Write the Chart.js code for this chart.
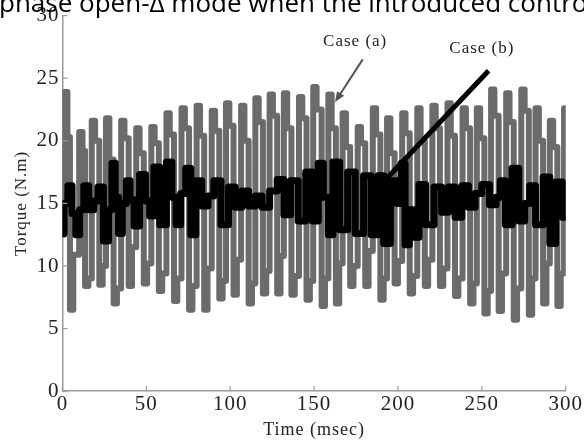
<!DOCTYPE html>
<html>
<head>
<meta charset="utf-8">
<script src="https://cdn.jsdelivr.net/npm/chart.js@4.4.0/dist/chart.umd.min.js"></script>
<style>
  html, body { margin: 0; padding: 0; background: #fff; }
</style>
</head>
<body>
<canvas id="torqueChart" width="584" height="446"></canvas>
<script>
// --- DATA ---
// Case (a): step transitions (time in msec, torque in N.m)
const caseATime = [
  0, 1, 3, 4.5, 6.5, 10, 12, 13.5, 15.5, 17.5, 19.5, 22, 24,
  26, 28, 30.5, 32.5, 35, 37, 39.5, 41.5, 44, 46, 48.5, 50.5,
  53, 55, 57.5, 59.5, 62, 64, 66.5, 68.5, 71, 73, 75.5, 77.5,
  80, 82, 84.5, 86.5, 89, 91, 93.5, 95.5, 97.5, 99.5, 102, 104,
  106.5, 108.5, 111, 113, 115, 117, 119.5, 121.5, 123.5, 125.5, 128, 130,
  132, 134, 136.5, 138.5, 141, 143, 145.5, 147.5, 149.5, 151.5, 154.5, 156.5,
  158.5, 160.5, 163, 165, 167, 169, 171.5, 173.5, 176, 178, 180.5, 182.5,
  185, 187, 189.5, 191.5, 193.5, 195.5, 198, 200, 202.5, 204.5, 207, 209,
  211.5, 213.5, 216, 218, 220.5, 222.5, 225, 227, 229.5, 231.5, 234, 236,
  238.5, 240.5, 243, 245, 247, 249, 251.5, 253.5, 255.5, 257.5, 260, 262,
  264.5, 266.5, 269, 271, 273.5, 275.5, 278, 280, 282, 284, 286.5, 288.5,
  290.5, 292.5, 295, 297, 299, 300
];
const caseATorque = [
  12.5, 23.9, 20.3, 6.5, 10.9, 20.7, 19.2, 8.4, 9.0, 21.6, 20.0, 8.5, 10.0,
  21.8, 18.5, 7.0, 8.2, 21.6, 20.2, 8.4, 11.5, 21.0, 19.0, 8.6, 10.2,
  21.1, 19.8, 8.0, 9.4, 22.2, 20.5, 7.2, 9.0, 22.6, 21.0, 6.5, 8.4,
  22.8, 20.4, 6.5, 9.8, 22.4, 20.8, 7.4, 8.8, 23.0, 21.2, 7.7, 10.5,
  22.8, 20.0, 7.0, 8.6, 23.4, 21.5, 7.8, 9.6, 23.7, 22.0, 7.8, 10.8,
  23.8, 21.0, 7.7, 9.2, 23.5, 21.8, 7.3, 8.8, 24.3, 22.5, 6.8, 9.0,
  23.7, 21.0, 7.0, 10.2, 22.2, 19.5, 8.4, 10.0, 21.1, 19.8, 8.4, 11.2,
  22.6, 20.5, 7.3, 9.0, 21.8, 19.0, 8.6, 10.4, 22.2, 20.6, 7.8, 9.2,
  22.6, 20.0, 8.4, 10.5, 22.8, 21.0, 8.4, 9.8, 23.0, 20.4, 7.6, 9.0,
  22.6, 21.0, 7.0, 8.6, 22.6, 20.2, 6.2, 8.0, 24.1, 22.0, 6.4, 9.4,
  23.8, 21.5, 5.7, 8.2, 24.1, 22.4, 6.1, 9.0, 22.6, 20.0, 7.0, 10.2,
  21.6, 19.5, 6.8, 9.4, 22.6, 22.6
];

// Case (b): plateau centres (time in msec, torque in N.m)
const caseBTime = [
  0, 2, 4.5, 7, 9, 11.5, 14, 17.4, 20, 22.4, 26.5, 28.5, 30.5, 32.5, 34.5,
  37, 39.2, 41.5, 44, 48, 51, 53, 56, 60, 64, 66.5, 69, 72, 75, 78,
  81, 85, 88.5, 92, 97, 101, 105, 109, 113, 117, 121, 126, 130, 134, 138,
  143, 147, 151, 154, 157, 160, 162.5, 168, 172, 177, 182, 186, 190, 193, 198,
  201, 203, 205.5, 208, 211, 214, 219, 224, 228, 232, 236, 240, 244, 248, 252,
  257, 260, 262, 266, 270, 274, 277, 280, 284, 289, 292, 296, 300
];
const caseBTorque = [
  12.6, 15.0, 16.4, 14.2, 12.5, 14.5, 16.4, 14.5, 15.2, 16.3, 12.0, 14.5, 18.2, 15.5, 12.6,
  15.0, 16.8, 15.3, 13.2, 17.3, 15.2, 14.0, 17.9, 13.3, 18.3, 15.5, 13.3, 15.8, 17.8, 12.5,
  16.8, 14.8, 15.6, 16.8, 13.3, 16.3, 14.7, 16.0, 14.8, 15.6, 14.7, 16.0, 16.9, 14.1, 16.8,
  13.6, 17.5, 13.6, 18.2, 15.5, 12.5, 18.3, 12.9, 17.5, 12.6, 17.2, 12.5, 17.2, 11.8, 16.8,
  15.0, 18.2, 11.7, 14.5, 12.3, 16.5, 13.3, 16.3, 14.3, 16.3, 13.9, 16.4, 14.7, 15.8, 16.5,
  14.9, 15.5, 16.8, 13.3, 17.8, 13.6, 15.0, 16.4, 13.3, 17.1, 11.8, 16.7, 13.9
];

const yTicks = [0, 5, 10, 15, 20, 25, 30];
const xTicks = [0, 50, 100, 150, 200, 250, 300];

// --- STYLE ---
const serif = '"Liberation Serif", "Times New Roman", serif';
const axisColor = '#9a9a9a';
const textColor = '#222';

// annotation positions in data units (time, torque)
const labelA = { text: 'Case (a)', at: [174.5, 27.9], from: [179, 26.5], to: [162.5, 23.1] };
const labelB = { text: 'Case (b)', at: [250, 27.4], from: [254, 25.6], to: [190.5, 16.6] };

// spaced-out lettering like the exported figure
const spacingPlugin = {
  id: 'spacing',
  beforeUpdate(chart) { chart.ctx.letterSpacing = '1px'; },
  beforeDraw(chart) { chart.ctx.letterSpacing = '1px'; }
};

// --- PLUGIN: caption, inward ticks, arrows ---
const extrasPlugin = {
  id: 'extras',
  afterDraw(chart) {
    const ctx = chart.ctx;
    const xs = chart.scales.x, ys = chart.scales.y;
    const area = chart.chartArea;
    ctx.save();

    // caption line cut off at the top of the picture
    ctx.letterSpacing = '0px';
    ctx.fillStyle = '#000';
    ctx.font = '26px "Open Sans", "Noto Sans", sans-serif';
    ctx.textBaseline = 'alphabetic';
    ctx.textAlign = 'left';
    ctx.fillText('phase open-\u0394 mode when the introduced control', -1, 12);

    // inward tick marks
    ctx.strokeStyle = axisColor;
    ctx.lineWidth = 1.2;
    yTicks.forEach(v => {
      const py = ys.getPixelForValue(v);
      ctx.beginPath();
      ctx.moveTo(area.left, py);
      ctx.lineTo(area.left + 5, py);
      ctx.stroke();
    });
    xTicks.forEach(v => {
      const px = xs.getPixelForValue(v);
      ctx.beginPath();
      ctx.moveTo(px, area.bottom);
      ctx.lineTo(px, area.bottom - 5);
      ctx.stroke();
    });

    // arrows with labels
    function arrow(lbl, color, width, head) {
      const x1 = xs.getPixelForValue(lbl.from[0]), y1 = ys.getPixelForValue(lbl.from[1]);
      const x2 = xs.getPixelForValue(lbl.to[0]), y2 = ys.getPixelForValue(lbl.to[1]);
      const ang = Math.atan2(y2 - y1, x2 - x1);
      ctx.strokeStyle = color;
      ctx.fillStyle = color;
      ctx.lineWidth = width;
      ctx.lineCap = 'butt';
      ctx.beginPath();
      ctx.moveTo(x1, y1);
      ctx.lineTo(x2 - Math.cos(ang) * head * 0.6, y2 - Math.sin(ang) * head * 0.6);
      ctx.stroke();
      ctx.beginPath();
      ctx.moveTo(x2, y2);
      ctx.lineTo(x2 - Math.cos(ang - 0.4) * head, y2 - Math.sin(ang - 0.4) * head);
      ctx.lineTo(x2 - Math.cos(ang + 0.4) * head, y2 - Math.sin(ang + 0.4) * head);
      ctx.closePath();
      ctx.fill();

      ctx.letterSpacing = '1px';
      ctx.fillStyle = textColor;
      ctx.font = '17px ' + serif;
      ctx.textAlign = 'center';
      ctx.textBaseline = 'middle';
      ctx.fillText(lbl.text, xs.getPixelForValue(lbl.at[0]), ys.getPixelForValue(lbl.at[1]));
    }
    arrow(labelA, '#555', 2, 11);
    arrow(labelB, '#000', 5, 9);

    ctx.restore();
  }
};

// --- CHART ---
const ctx = document.getElementById('torqueChart').getContext('2d');
const torqueChart = new Chart(ctx, {
  type: 'line',
  data: {
    datasets: [
      {
        label: 'Case (b)',
        data: caseBTime.map((t, i) => ({ x: t, y: caseBTorque[i] })),
        borderColor: '#000',
        borderWidth: 7,
        stepped: 'middle',
        pointRadius: 0,
        borderCapStyle: 'round',
        borderJoinStyle: 'round',
        order: 0
      },
      {
        label: 'Case (a)',
        data: caseATime.map((t, i) => ({ x: t, y: caseATorque[i] })),
        borderColor: '#6b6b6b',
        borderWidth: 6,
        stepped: true,
        pointRadius: 0,
        borderCapStyle: 'round',
        borderJoinStyle: 'round',
        order: 1
      }
    ]
  },
  options: {
    responsive: false,
    animation: false,
    layout: { padding: { top: 5, left: 7, right: 0, bottom: 0 } },
    plugins: {
      legend: { display: false },
      tooltip: { enabled: false }
    },
    scales: {
      x: {
        type: 'linear',
        min: 0,
        max: 300,
        afterBuildTicks: scale => { scale.ticks = xTicks.map(v => ({ value: v })); },
        ticks: { color: textColor, font: { family: serif, size: 21 }, padding: 1, maxRotation: 0 },
        grid: { display: false, drawTicks: false },
        border: { color: axisColor, width: 1.5 },
        title: { display: true, text: 'Time (msec)', color: textColor, font: { family: serif, size: 18 }, padding: { top: 1, bottom: 5 } }
      },
      y: {
        min: 0,
        max: 30,
        afterBuildTicks: scale => { scale.ticks = yTicks.map(v => ({ value: v })); },
        ticks: { color: textColor, font: { family: serif, size: 21 }, padding: 3 },
        grid: { display: false, drawTicks: false },
        border: { color: axisColor, width: 1.5 },
        title: { display: true, text: 'Torque (N.m)', color: textColor, font: { family: serif, size: 17 }, padding: { top: 4, bottom: 2 } }
      }
    }
  },
  plugins: [spacingPlugin, extrasPlugin]
});
</script>
</body>
</html>
